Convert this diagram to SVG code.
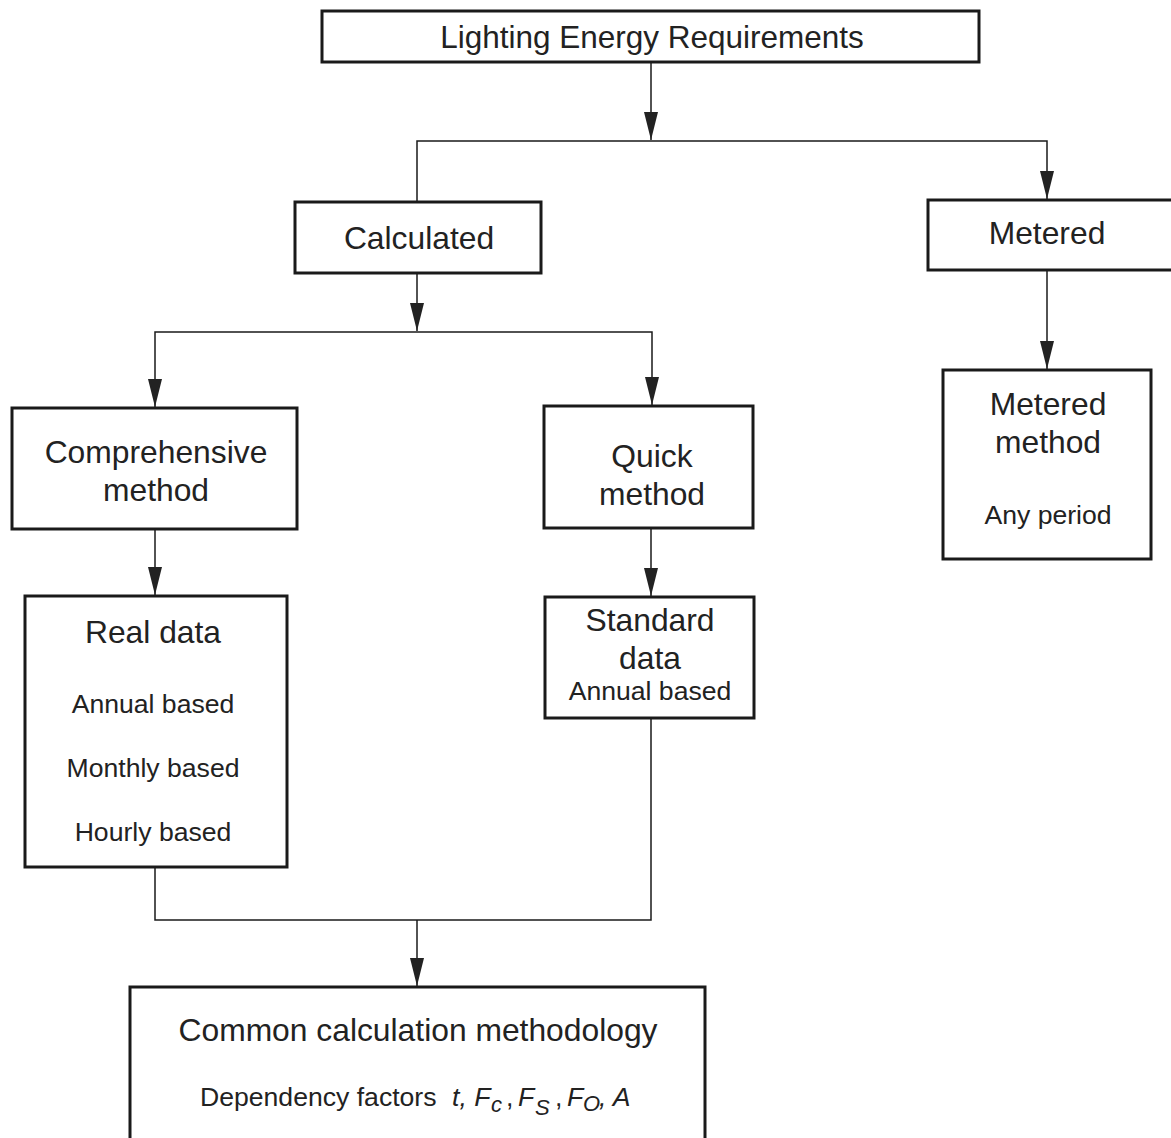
<svg xmlns="http://www.w3.org/2000/svg" width="1171" height="1138" viewBox="0 0 1171 1138">
<style>
.box{fill:#fff;stroke:#1a1a1a;stroke-width:3}
.ln{fill:none;stroke:#1a1a1a;stroke-width:1.5}
text{font-family:"Liberation Sans",Arial,sans-serif;fill:#222;text-anchor:middle}
.big{font-size:31.8px}
.sm{font-size:26.6px}
.it{font-style:italic}
</style>
<rect width="1171" height="1138" fill="#fff"/>
<g id="connectors">
<line class="ln" x1="651" y1="62" x2="651" y2="140"/>
<polyline class="ln" points="417,202 417,141 1047,141 1047,199"/>
<line class="ln" x1="417" y1="273" x2="417" y2="331"/>
<polyline class="ln" points="155,407 155,332 652,332 652,405"/>
<line class="ln" x1="1047" y1="270" x2="1047" y2="369"/>
<line class="ln" x1="155" y1="529" x2="155" y2="595"/>
<line class="ln" x1="651" y1="528" x2="651" y2="596"/>
<polyline class="ln" points="155,867 155,920 651,920 651,718"/>
<line class="ln" x1="417" y1="920" x2="417" y2="986"/>
<g fill="#222">
<path d="M644,112 L658,112 L651,140 Z"/>
<path d="M1040,171 L1054,171 L1047,199 Z"/>
<path d="M410,303 L424,303 L417,331 Z"/>
<path d="M148,379 L162,379 L155,407 Z"/>
<path d="M645,377 L659,377 L652,405 Z"/>
<path d="M1040,341 L1054,341 L1047,369 Z"/>
<path d="M148,567 L162,567 L155,595 Z"/>
<path d="M644,568 L658,568 L651,596 Z"/>
<path d="M410,958 L424,958 L417,986 Z"/>
</g>
</g>
<g id="n-lighting">
<rect class="box" x="322" y="11" width="657" height="51"/>
<text x="652" y="48" style="font-size:31.5px">Lighting Energy Requirements</text>
</g>
<g id="n-calculated">
<rect class="box" x="295" y="202" width="246" height="71"/>
<text class="big" x="419" y="249">Calculated</text>
</g>
<g id="n-metered">
<rect class="box" x="928" y="200" width="250" height="70"/>
<text class="big" x="1047" y="244">Metered</text>
</g>
<g id="n-comprehensive">
<rect class="box" x="12" y="408" width="285" height="121"/>
<text class="big" x="156" y="463">Comprehensive</text>
<text class="big" x="156" y="501">method</text>
</g>
<g id="n-quick">
<rect class="box" x="544" y="406" width="209" height="122"/>
<text class="big" x="652" y="467">Quick</text>
<text class="big" x="652" y="505">method</text>
</g>
<g id="n-metered-method">
<rect class="box" x="943" y="370" width="208" height="189"/>
<text class="big" x="1048" y="415">Metered</text>
<text class="big" x="1048" y="453">method</text>
<text class="sm" x="1048" y="524">Any period</text>
</g>
<g id="n-real">
<rect class="box" x="25" y="596" width="262" height="271"/>
<text class="big" x="153" y="643">Real data</text>
<text class="sm" x="153" y="713">Annual based</text>
<text class="sm" x="153" y="777">Monthly based</text>
<text class="sm" x="153" y="841">Hourly based</text>
</g>
<g id="n-standard">
<rect class="box" x="545" y="597" width="209" height="121"/>
<text class="big" x="650" y="631">Standard</text>
<text class="big" x="650" y="669">data</text>
<text class="sm" x="650" y="700">Annual based</text>
</g>
<g id="n-common">
<rect class="box" x="130" y="987" width="575" height="160"/>
<text class="big" x="418" y="1041">Common calculation methodology</text>
<text class="sm" x="200" y="1106" style="text-anchor:start">Dependency factors<tspan class="it" x="452">t, F</tspan><tspan class="it" font-size="22" x="491" dy="6">c</tspan><tspan x="506" dy="-6">,</tspan><tspan class="it" x="518">F</tspan><tspan class="it" font-size="22" x="535" dy="9">S</tspan><tspan x="555" dy="-9">,</tspan><tspan class="it" x="567">F</tspan><tspan class="it" font-size="22" x="583" dy="5">O</tspan><tspan class="it" x="599" dy="-5">, A</tspan></text>
</g>
</svg>
